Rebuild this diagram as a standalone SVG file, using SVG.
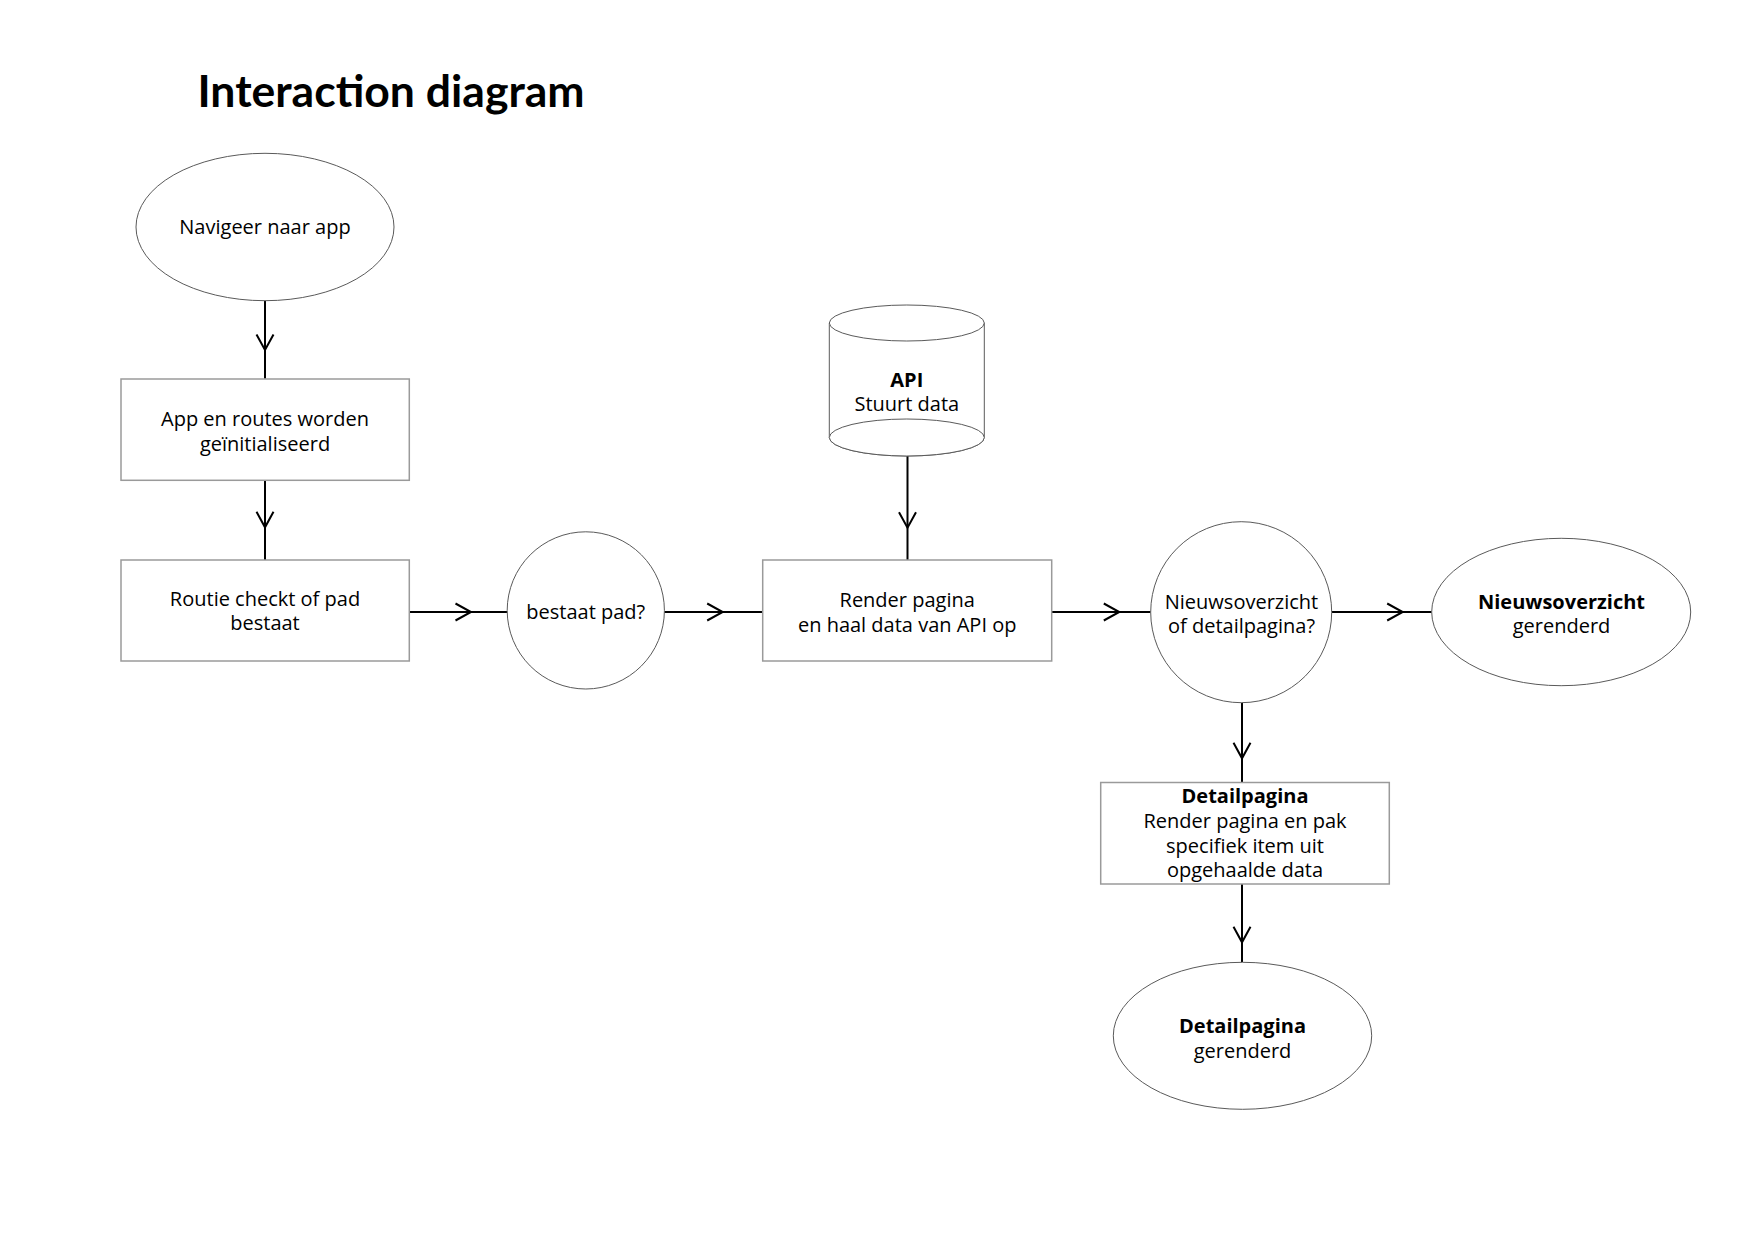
<svg xmlns="http://www.w3.org/2000/svg" width="1754" height="1240" viewBox="0 0 1754 1240">
  <style>
    .box { fill: #fff; stroke: #9a9a9a; stroke-width: 1.5; }
    .ell { fill: #fff; stroke: #5a5a5a; stroke-width: 1; }
    .t { font-family: "Open Sans", "Liberation Sans", sans-serif; font-size: 20px; fill: #000; text-anchor: middle; }
    .b { font-weight: bold; }
    .title { font-family: Lato, "Open Sans", sans-serif; font-weight: bold; font-size: 44.5px; fill: #000; }
    .conn { fill: none; stroke: #000; stroke-width: 2; marker-mid: url(#chev); }
  </style>
  <defs>
    <marker id="chev" viewBox="-20 -12 24 24" refX="0" refY="0" markerWidth="24" markerHeight="24" markerUnits="userSpaceOnUse" orient="auto" overflow="visible">
      <path d="M-15.5,-8.5 L0,0 L-15.5,8.5" fill="none" stroke="#000" stroke-width="2"/>
    </marker>
  </defs>
  <rect width="1754" height="1240" fill="#fff"/>

  <text class="title" x="197.5" y="106.7">Interaction diagram</text>

  <g id="connectors">
    <path class="conn" d="M265,300.7 L265,350 L265,378.7"/>
    <path class="conn" d="M265,480.3 L265,527.3 L265,560"/>
    <path class="conn" d="M409,612 L471,612 L507.3,612"/>
    <path class="conn" d="M664.3,612 L722.7,612 L762.7,612"/>
    <path class="conn" d="M907.5,456 L907.5,527.7 L907.5,560"/>
    <path class="conn" d="M1052,612 L1119.3,612 L1150.7,612"/>
    <path class="conn" d="M1331.7,612 L1402.7,612 L1431.7,612"/>
    <path class="conn" d="M1242,702.7 L1242,758.3 L1242,782.5"/>
    <path class="conn" d="M1242,884 L1242,942.3 L1242,962.3"/>
  </g>

  <g id="start">
    <ellipse class="ell" cx="265" cy="227" rx="129" ry="73.7"/>
    <text class="t" x="265" y="234">Navigeer naar app</text>
  </g>

  <g id="init">
    <rect class="box" x="121" y="379" width="288.3" height="101.3"/>
    <text class="t" x="265" y="425.7">App en routes worden</text>
    <text class="t" x="265" y="451">geïnitialiseerd</text>
  </g>

  <g id="route-check">
    <rect class="box" x="121" y="560" width="288.3" height="101"/>
    <text class="t" x="265" y="605.7">Routie checkt of pad</text>
    <text class="t" x="265" y="630.3">bestaat</text>
  </g>

  <g id="path-exists">
    <circle class="ell" cx="585.8" cy="610.4" r="78.6"/>
    <text class="t" x="585.8" y="619">bestaat pad?</text>
  </g>

  <g id="api">
    <path class="ell" d="M829.3,323 L829.3,437.5 A77.5,18.5 0 0 0 984.3,437.5 L984.3,323 Z"/>
    <ellipse class="ell" cx="906.8" cy="437.5" rx="77.5" ry="18.5" fill="none"/>
    <ellipse class="ell" cx="906.8" cy="323" rx="77.5" ry="18"/>
    <text class="t b" x="906.8" y="386.7">API</text>
    <text class="t" x="906.8" y="410.7">Stuurt data</text>
  </g>

  <g id="render">
    <rect class="box" x="762.7" y="560" width="289" height="101"/>
    <text class="t" x="907.2" y="607">Render pagina</text>
    <text class="t" x="907.2" y="632">en haal data van API op</text>
  </g>

  <g id="decision">
    <circle class="ell" cx="1241.2" cy="612.2" r="90.5"/>
    <text class="t" x="1241.5" y="609">Nieuwsoverzicht</text>
    <text class="t" x="1241.5" y="633.3">of detailpagina?</text>
  </g>

  <g id="overview-rendered">
    <ellipse class="ell" cx="1561.2" cy="612" rx="129.5" ry="73.7"/>
    <text class="t b" x="1561.5" y="608.7">Nieuwsoverzicht</text>
    <text class="t" x="1561.5" y="633.3">gerenderd</text>
  </g>

  <g id="detail">
    <rect class="box" x="1100.7" y="782.5" width="288.6" height="101.5"/>
    <text class="t b" x="1245" y="802.7">Detailpagina</text>
    <text class="t" x="1245" y="828">Render pagina en pak</text>
    <text class="t" x="1245" y="852.7">specifiek item uit</text>
    <text class="t" x="1245" y="877.3">opgehaalde data</text>
  </g>

  <g id="detail-rendered">
    <ellipse class="ell" cx="1242.5" cy="1035.8" rx="129.2" ry="73.5"/>
    <text class="t b" x="1242.5" y="1033.3">Detailpagina</text>
    <text class="t" x="1242.5" y="1058.3">gerenderd</text>
  </g>
</svg>
